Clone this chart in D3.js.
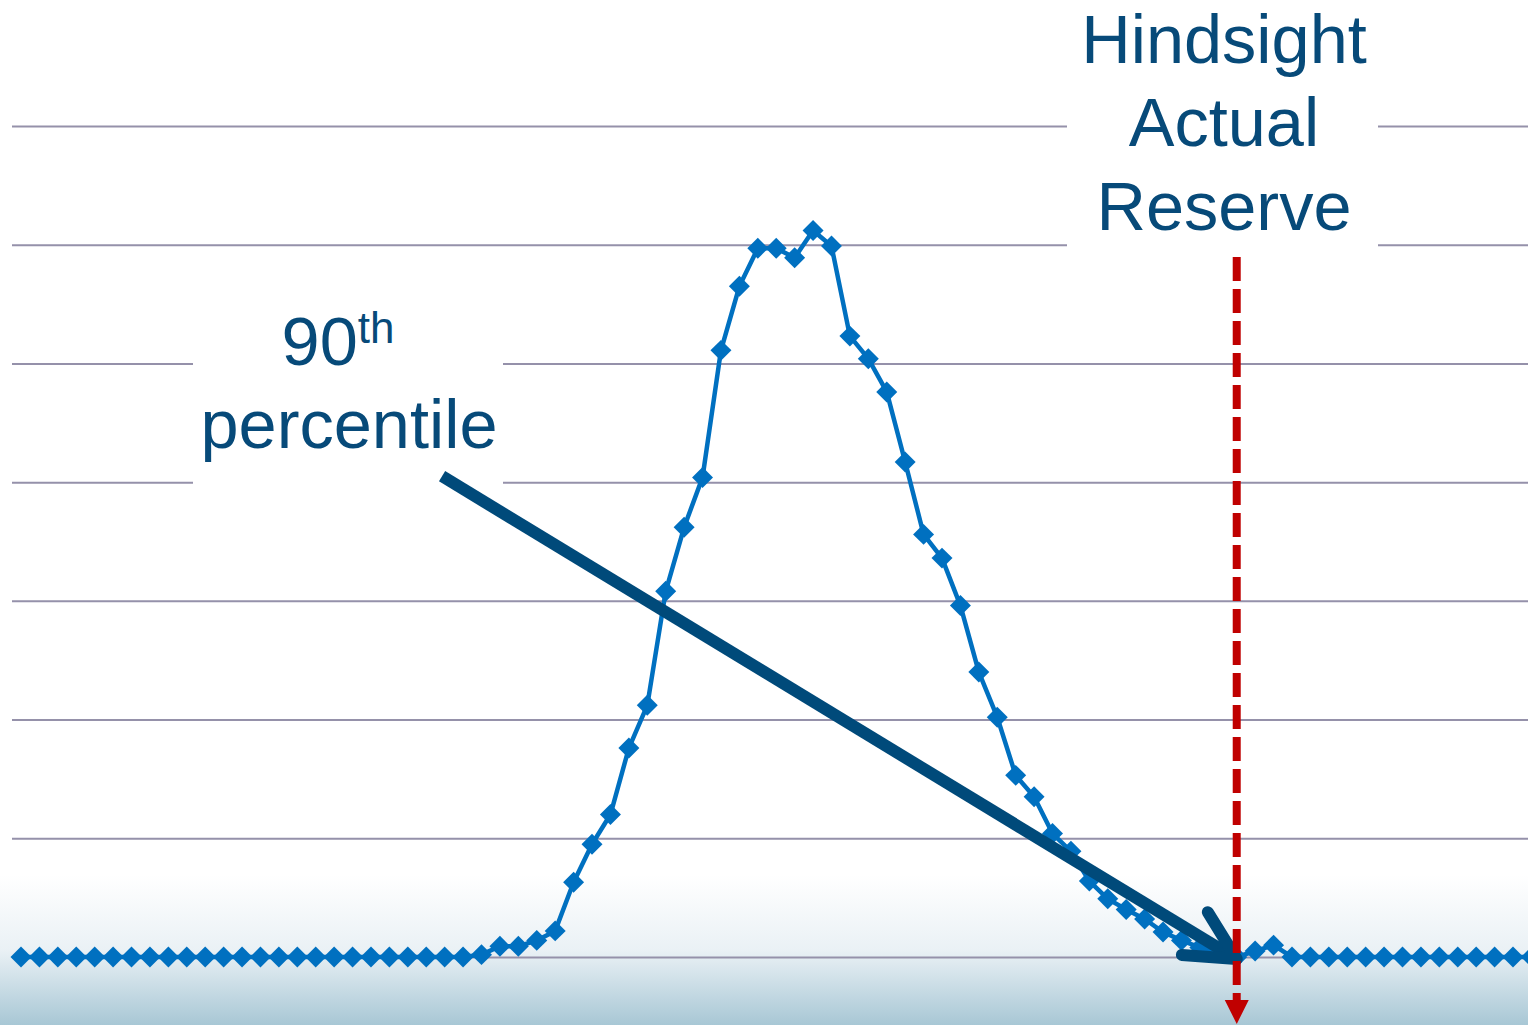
<!DOCTYPE html>
<html><head><meta charset="utf-8">
<script src="https://cdn.jsdelivr.net/npm/d3@7"></script>
<style>html,body{margin:0;padding:0;background:#fff;overflow:hidden}</style>
</head><body>
<svg id="chart" width="1528" height="1025"></svg>
<script>
// ---- data ----
const reserveIndex = d3.range(83);
const reserveLikelihood = [
  0,0,0,0,0,0,0,0,0,0,0,0,0,0,0,0,0,0,0,0,0,0,0,0,0,
  0.02,0.09,0.09,0.14,0.22,0.63,0.95,1.2,1.76,2.12,
  3.08,3.62,4.04,5.11,5.65,5.97,5.97,5.89,6.12,5.99,
  5.23,5.04,4.76,4.17,3.56,3.36,2.96,2.4,2.02,1.53,
  1.35,1.04,0.89,0.64,0.49,0.4,0.32,0.21,0.14,0.08,
  0.04,0,0.05,0.1,
  0,0,0,0,0,0,0,0,0,0,0,0,0,0
];
const gridTicks = [0,1,2,3,4,5,6,7];
const hindsightIndex = 66;
const percentileArrowStart = [22.86, 4.05];
const hindsightLines = ["Hindsight","Actual","Reserve"];
const percentileLines = ["90","th","percentile"];

// ---- setup ----
const W = 1528, H = 1025;
const svg = d3.select("#chart");
const x = d3.scaleLinear().domain([0, 82]).range([21, 21 + 82 * 18.42]);
const y = d3.scaleLinear().domain([0, 7]).range([957, 126]);
const textColor = "#074a79";
const font = "'Liberation Sans', Arial, sans-serif";

// background gradient
const defs = svg.append("defs");
const grad = defs.append("linearGradient").attr("id","bg")
  .attr("gradientUnits","userSpaceOnUse").attr("x1",0).attr("x2",0).attr("y1",875).attr("y2",H);
grad.append("stop").attr("offset","0").attr("stop-color","#ffffff");
grad.append("stop").attr("offset","0.5").attr("stop-color","#eaf1f5");
grad.append("stop").attr("offset","1").attr("stop-color","#a8c7d5");
svg.append("rect").attr("width",W).attr("height",H).attr("fill","url(#bg)");

// gridlines via axis
const gridAxis = d3.axisLeft(y).tickValues(gridTicks).tickSize(-(W - 12)).tickFormat("");
const g = svg.append("g").attr("transform","translate(12,0)").call(gridAxis);
g.select(".domain").remove();
g.selectAll(".tick line").attr("stroke","#9591aa").attr("stroke-width",2);

// white label boxes
svg.append("rect").attr("x",1067).attr("y",0).attr("width",311).attr("height",252).attr("fill","#ffffff");
svg.append("rect").attr("x",193).attr("y",290).attr("width",310).attr("height",300).attr("fill","#ffffff");

// labels
const t1 = svg.append("text").attr("font-family",font).attr("font-size",68.5)
  .attr("fill",textColor).attr("text-anchor","middle");
hindsightLines.forEach((s,i)=>{
  t1.append("tspan").attr("x",1224).attr("y",63 + i*83.3).text(s);
});
const t2 = svg.append("text").attr("font-family",font).attr("font-size",68.5)
  .attr("fill",textColor).attr("text-anchor","middle").attr("x",338).attr("y",365);
t2.append("tspan").text(percentileLines[0]);
t2.append("tspan").attr("font-size",44).attr("dy",-22).text(percentileLines[1]);
svg.append("text").attr("font-family",font).attr("font-size",68.5)
  .attr("fill",textColor).attr("text-anchor","middle").attr("x",349).attr("y",448)
  .text(percentileLines[2]);

// series
const pts = reserveIndex.map((k,i)=>[x(k), y(reserveLikelihood[i])]);
svg.append("path").attr("d", d3.line()(pts))
  .attr("fill","none").attr("stroke","#0070c0").attr("stroke-width",4.5).attr("stroke-linejoin","round");
const sym = d3.symbol().type(d3.symbolSquare).size(220);
svg.append("g").selectAll("path").data(pts).join("path")
  .attr("d", sym).attr("transform", d=>`translate(${d[0]},${d[1]}) rotate(45)`)
  .attr("fill","#0070c0");

// dark arrow (90th percentile)
const ax0 = x(percentileArrowStart[0]), ay0 = y(percentileArrowStart[1]);
const ax1 = x(hindsightIndex), ay1 = y(0) + 2;
const ang = Math.atan2(ay1 - ay0, ax1 - ax0);
const headLen = 55, headAng = 27 * Math.PI / 180;
const arrowColor = "#004a7a";
svg.append("line").attr("x1",ax0).attr("y1",ay0).attr("x2",ax1 - 4*Math.cos(ang)).attr("y2",ay1 - 4*Math.sin(ang))
  .attr("stroke",arrowColor).attr("stroke-width",12).attr("stroke-linecap","butt");
const hp = [
  [ax1 - headLen*Math.cos(ang - headAng), ay1 - headLen*Math.sin(ang - headAng)],
  [ax1, ay1],
  [ax1 - headLen*Math.cos(ang + headAng), ay1 - headLen*Math.sin(ang + headAng)]
];
svg.append("path").attr("d", d3.line()(hp)).attr("fill","none")
  .attr("stroke",arrowColor).attr("stroke-width",12)
  .attr("stroke-linecap","round").attr("stroke-linejoin","round");

// red dashed hindsight line
const rx = x(hindsightIndex);
svg.append("line").attr("x1",rx).attr("x2",rx).attr("y1",257).attr("y2",1000)
  .attr("stroke","#c00000").attr("stroke-width",8).attr("stroke-dasharray","24,8");
svg.append("path").attr("d", d3.line()([[rx-12,1000],[rx+12,1000],[rx,1024]]))
  .attr("fill","#c00000");
</script>
</body></html>
